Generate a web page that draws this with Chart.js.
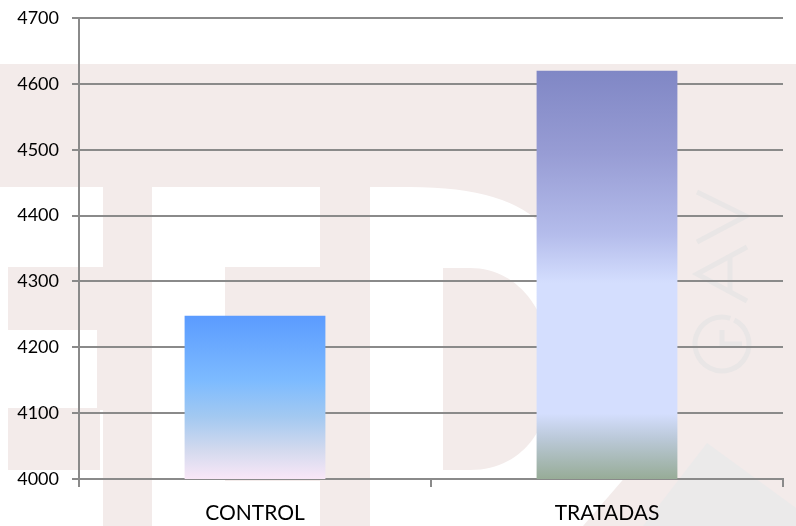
<!DOCTYPE html>
<html><head><meta charset="utf-8">
<script src="https://cdn.jsdelivr.net/npm/chart.js@4"></script>
<style>html,body{margin:0;padding:0;background:#fff}#wrap{width:796px;height:526px;position:relative}</style>
</head><body><div id="wrap"><canvas id="c" width="796" height="526"></canvas></div>
<script>
const categories = ['CONTROL', 'TRATADAS'];
const values = [4248, 4620];
const yMin = 4000, yMax = 4700, yStep = 100;

const gradientStops = [
  [[0, '#5B9BFF'], [0.4, '#7DBBFF'], [0.62, '#A3C9F1'], [0.82, '#D2D9EE'], [1, '#F9E7F7']],
  [[0, '#8087C5'], [0.2, '#979CD4'], [0.4, '#B4BCEB'], [0.52, '#D4DEFE'], [0.84, '#D4DEFE'], [0.9, '#BBC9D9'], [1, '#97AC97']]
];

const PINK = '#F3EBEA';
const watermark = {
  id: 'watermark',
  beforeDraw(chart) {
    const ctx = chart.ctx;
    ctx.save();
    ctx.fillStyle = '#FFFFFF';
    ctx.fillRect(0, 0, chart.width, chart.height);
    ctx.fillStyle = PINK;
    // top band
    ctx.fillRect(0, 64, 796, 123);
    // left letter
    ctx.fillRect(103, 187, 49, 339);
    ctx.fillRect(97, 330, 6, 80);
    ctx.fillRect(8, 267, 95, 63);
    ctx.fillRect(8, 408, 92, 62);
    // second letter
    ctx.fillRect(320, 187, 50, 339);
    ctx.fillRect(225, 267, 95, 214);
    // curve under band
    ctx.beginPath();
    ctx.moveTo(410, 187);
    ctx.quadraticCurveTo(510, 187, 545, 228);
    ctx.lineTo(545, 187);
    ctx.closePath();
    ctx.fill();
    // D shape
    ctx.beginPath();
    ctx.moveTo(443, 268);
    ctx.lineTo(470, 268);
    ctx.bezierCurveTo(575, 268, 585, 470, 470, 470);
    ctx.lineTo(443, 470);
    ctx.closePath();
    ctx.fill();
    // right area
    ctx.beginPath();
    ctx.moveTo(560, 187);
    ctx.lineTo(796, 187);
    ctx.lineTo(796, 526);
    ctx.lineTo(583, 526);
    ctx.lineTo(640, 460);
    ctx.lineTo(560, 460);
    ctx.closePath();
    ctx.fill();
    // gray triangle
    ctx.fillStyle = '#EBEAEA';
    ctx.beginPath();
    ctx.moveTo(707, 443);
    ctx.lineTo(643, 526);
    ctx.lineTo(796, 526);
    ctx.lineTo(796, 508);
    ctx.closePath();
    ctx.fill();
    // rotated GAV strokes
    ctx.strokeStyle = '#E9E6E6';
    ctx.lineWidth = 5;
    ctx.lineCap = 'butt';
    ctx.beginPath();
    ctx.moveTo(697, 192); ctx.lineTo(746, 216); ctx.lineTo(697, 242);
    ctx.moveTo(747, 247); ctx.lineTo(697, 274); ctx.lineTo(747, 301);
    ctx.moveTo(730, 256); ctx.lineTo(730, 292);
    ctx.stroke();
    ctx.beginPath();
    ctx.arc(722, 344, 27, -Math.PI * 0.35, Math.PI * 1.6);
    ctx.stroke();
    ctx.beginPath();
    ctx.moveTo(722, 330); ctx.lineTo(722, 344); ctx.lineTo(742, 344);
    ctx.stroke();
    ctx.restore();
  }
};

function barGradient(context) {
  const chart = context.chart;
  if (!chart.chartArea) return '#5B9BFF';
  const yScale = chart.scales.y;
  const top = yScale.getPixelForValue(context.raw);
  const base = yScale.getPixelForValue(yMin);
  const g = chart.ctx.createLinearGradient(0, top, 0, base);
  gradientStops[context.dataIndex].forEach(s => g.addColorStop(s[0], s[1]));
  return g;
}

const GRID = '#8A8A8A';
new Chart(document.getElementById('c'), {
  type: 'bar',
  data: {
    labels: categories,
    datasets: [{
      data: values,
      backgroundColor: barGradient,
      borderWidth: 0,
      barPercentage: 0.4,
      categoryPercentage: 1.0
    }]
  },
  options: {
    responsive: false,
    animation: false,
    devicePixelRatio: 1,
    layout: { padding: { top: 18, right: 13, left: 0, bottom: 0 } },
    plugins: { legend: { display: false }, tooltip: { enabled: false } },
    scales: {
      x: {
        grid: { drawOnChartArea: false, drawTicks: true, tickLength: 8, color: GRID, lineWidth: 2, offset: true },
        border: { display: true, color: GRID, width: 2 },
        ticks: { font: { family: 'Lato', size: 21 }, color: '#000', padding: 14 },
        afterFit(s) { s.height = 47; s.paddingLeft = 0; s.paddingRight = 0; }
      },
      y: {
        min: yMin, max: yMax,
        grid: { color: GRID, lineWidth: 2, tickLength: 7 },
        border: { display: true, color: GRID, width: 2 },
        ticks: { stepSize: yStep, font: { family: 'Lato', size: 18 }, color: '#000', padding: 13,
                 callback: v => String(v) },
        afterFit(s) { s.width = 79; s.paddingTop = 0; s.paddingBottom = 0; }
      }
    }
  },
  plugins: [watermark]
});
</script>
</body></html>
